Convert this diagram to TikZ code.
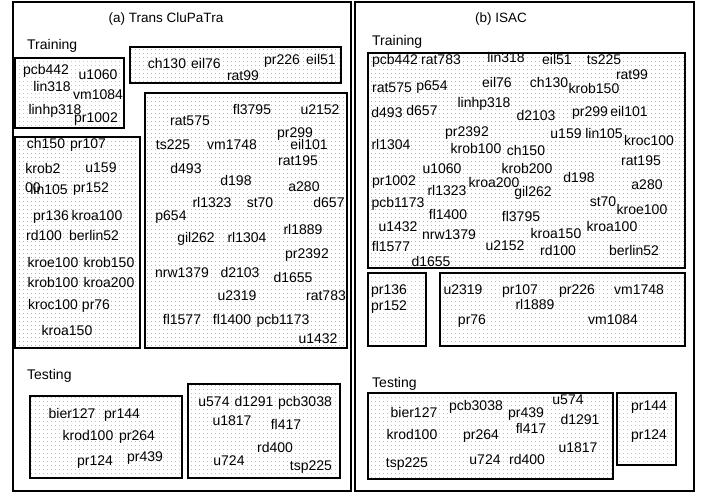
\documentclass[tikz,border=0pt]{standalone}
\usepackage{fontspec}
\setmainfont{Liberation Sans}
\usetikzlibrary{patterns.meta}
\tikzset{
  panel/.style={draw=black, line width=1.3pt},
  dotbox/.style={draw=black, line width=1.8pt, pattern={Dots[distance=4pt,radius=0.45pt]}, pattern color=black!50},
  lbl/.style={inner sep=0pt, anchor=mid, font=\fontsize{14}{16}\selectfont},
  head/.style={inner sep=0pt, anchor=mid west, font=\fontsize{14}{16}\selectfont},
  ttl/.style={inner sep=0pt, anchor=mid, font=\fontsize{13.5}{16}\selectfont}
}
\begin{document}
\begin{tikzpicture}[x=1pt,y=-1pt]
\useasboundingbox (0,0) rectangle (710,493);
\fill[white] (0,0) rectangle (710,493);
% panels
\draw[panel] (13,2) rectangle (351,491);
\draw[panel] (355,2) rectangle (694,491);
\node[ttl] (ta) at (166,20) {(a) Trans CluPaTra};
\node[ttl] (tb) at (501,20) {(b) ISAC};
\node[head] (a-train) at (27,47) {Training};
\node[head] (a-test) at (27,377) {Testing};
\node[head] (b-train) at (372,43) {Training};
\node[head] (b-test) at (372,385) {Testing};
% boxes left
\draw[dotbox] (15,58) rectangle (124,128);
\draw[dotbox] (130,47) rectangle (341,83);
\draw[dotbox] (145,93) rectangle (347,348);
\draw[dotbox] (15,137) rectangle (140,348);
\draw[dotbox] (30,396) rectangle (182,478);
\draw[dotbox] (188,384) rectangle (340,478);
% boxes right
\draw[dotbox] (368,53) rectangle (685,268);
\draw[dotbox] (368,273) rectangle (426,346);
\draw[dotbox] (440,273) rectangle (685,346);
\draw[dotbox] (368,393) rectangle (613,479);
\draw[dotbox] (617,393) rectangle (676,465);
% left labels
\foreach \n/\x/\y in {pcb442/46/72, u1060/98/77, lin318/52/89, vm1084/98/97, linhp318/55/112, pr1002/96/120,
  ch130/167/66, eil76/206/66, pr226/282/62, eil51/321/62, rat99/243/78,
  fl3795/252/112, u2152/320/112, rat575/190/123, pr299/295/135, ts225/173/147, vm1748/232/147, eil101/309/147,
  rat195/298/163, d493/186/171, d198/236/183, a280/304/189, rl1323/212/205, st70/260/205, d657/329/205,
  p654/171/218, rl1889/303/232, gil262/196/240, rl1304/247/240, pr2392/307/256, nrw1379/182/275,
  d2103/240/275, d1655/293/280, u2319/237/298, rat783/326/298, fl1577/182/322, fl1400/232/322,
  pcb1173/283/322, u1432/318/341,
  ch150/46/146, pr107/88/146, krob2/43/171, u159/101/170, 00/33/190, lin105/49/192, pr152/91/190,
  pr136/51/218, kroa100/97/218, rd100/44/238, berlin52/94/238, kroe100/53/265, krob150/109/265,
  krob100/53/285, kroa200/109/285, kroc100/53/307, pr76/96/307, kroa150/67/333,
  bier127/72/416, pr144/122/416, krod100/88/438, pr264/137/438, pr124/95/463, pr439/145/459,
  u574/214/404, d1291/254/404, pcb3038/305/404, u1817/232/423, fl417/286/427, rd400/275/450,
  u724/229/463, tsp225/311/468}
  \node[lbl] (a-\n) at (\x,\y) {\n};
% right labels
\foreach \n/\x/\y in {pcb442/395/62, rat783/441/62, lin318/506/60, eil51/557/62, ts225/604/62, rat99/632/77,
  rat575/392/90, p654/432/88, eil76/497/85, ch130/549/85, krob150/594/91, linhp318/484/105,
  d493/387/115, d657/422/113, d2103/536/118, pr299/590/114, eil101/629/114, pr2392/467/134,
  u159/566/136, lin105/604/136, kroc100/649/143, rl1304/391/147, krob100/476/151, ch150/526/153,
  rat195/641/163, u1060/442/171, krob200/527/171, pr1002/394/183, d198/579/180, kroa200/494/185,
  rl1323/447/193, gil262/533/194, a280/647/187, pcb1173/398/205, st70/603/204, kroe100/642/212,
  fl1400/448/217, fl3795/521/219, u1432/398/229, nrw1379/449/237, kroa150/556/236, kroa100/612/229,
  fl1577/391/249, u2152/505/248, rd100/558/253, berlin52/634/253, d1655/431/264,
  pr136/389/292, pr152/389/308,
  u2319/463/292, pr107/520/292, pr226/577/292, vm1748/639/292, rl1889/535/307, pr76/472/322, vm1084/613/322,
  bier127/414/415, pcb3038/476/408, pr439/526/415, u574/568/402, d1291/580/422, krod100/412/437,
  pr264/481/437, fl417/531/431, u1817/578/450, tsp225/407/465, u724/485/462, rd400/527/462,
  pr144/649/408, pr124/649/437}
  \node[lbl] (b-\n) at (\x,\y) {\n};
\end{tikzpicture}
\end{document}
